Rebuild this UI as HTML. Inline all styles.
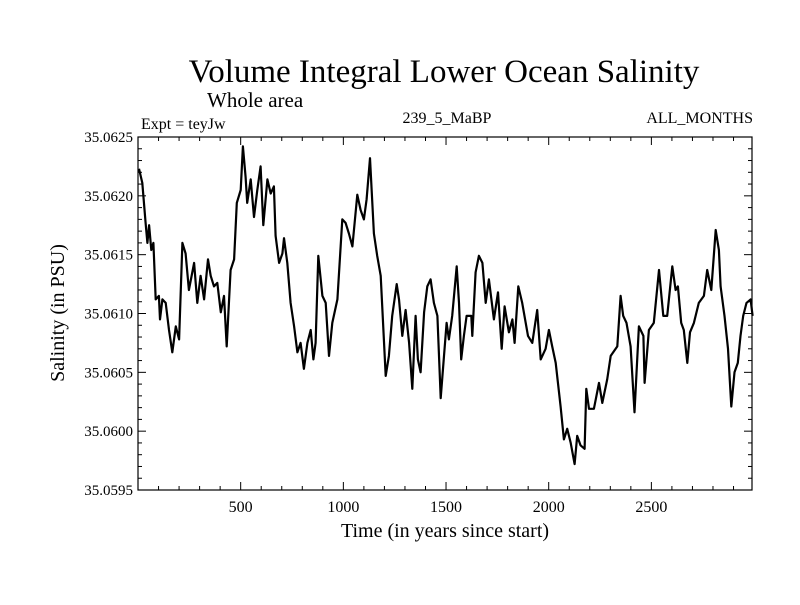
<!DOCTYPE html>
<html><head><meta charset="utf-8"><style>
body{margin:0;background:#fff}
svg text{font-family:"Liberation Serif",serif;fill:#000}
</style></head><body>
<svg id="chart" width="800" height="600" viewBox="0 0 800 600">
<rect width="800" height="600" fill="#fff"/>
<text x="444" y="82" font-size="33" text-anchor="middle">Volume Integral Lower Ocean Salinity</text>
<text x="207" y="107" font-size="21">Whole area</text>
<text x="141" y="129" font-size="16">Expt = teyJw</text>
<text x="447" y="123" font-size="16" text-anchor="middle">239_5_MaBP</text>
<text x="753" y="123" font-size="16" text-anchor="end">ALL_MONTHS</text>
<text x="445" y="537" font-size="20" text-anchor="middle">Time (in years since start)</text>
<text transform="translate(64,313) rotate(-90)" font-size="20" text-anchor="middle">Salinity (in PSU)</text>
<g id="axes"></g>
<path id="line" fill="none" stroke="#000" stroke-width="2.2" stroke-linejoin="round"/>
<rect x="138" y="137" width="614" height="353" fill="none" stroke="#000" stroke-width="1.2"/>
</svg>
<script>
const years=[5,21,37,46,54,65,75,86,102,107,119,135,151,167,184,200,216,232,248,273,289,305,322,341,354,370,386,403,419,432,451,468,481,500,511,524,532,549,565,581,597,610,630,646,662,670,687,703,711,727,743,760,776,792,808,825,841,854,865,878,898,914,930,946,971,995,1011,1027,1044,1068,1084,1100,1113,1130,1149,1165,1182,1206,1222,1238,1260,1271,1287,1303,1320,1336,1352,1363,1376,1393,1409,1425,1441,1458,1474,1490,1503,1514,1530,1552,1563,1574,1587,1600,1623,1628,1644,1660,1677,1693,1709,1733,1753,1771,1785,1806,1823,1834,1852,1871,1899,1920,1944,1961,1985,2001,2017,2034,2050,2058,2074,2090,2107,2126,2139,2155,2175,2183,2196,2220,2245,2261,2285,2302,2334,2350,2363,2379,2399,2418,2439,2461,2467,2488,2512,2537,2558,2577,2602,2618,2629,2645,2658,2675,2688,2707,2731,2756,2772,2792,2813,2829,2837,2856,2873,2889,2905,2921,2934,2947,2963,2983,2993];
const salinity=[35.06223,35.06211,35.06177,35.06160,35.06175,35.06154,35.06160,35.06112,35.06115,35.06095,35.06112,35.06109,35.06086,35.06067,35.06089,35.06078,35.06160,35.06151,35.06120,35.06143,35.06109,35.06132,35.06112,35.06146,35.06132,35.06123,35.06126,35.06101,35.06115,35.06072,35.06137,35.06146,35.06194,35.06205,35.06242,35.06216,35.06194,35.06214,35.06182,35.06205,35.06225,35.06175,35.06214,35.06202,35.06208,35.06166,35.06143,35.06151,35.06164,35.06143,35.06109,35.06089,35.06067,35.06075,35.06053,35.06075,35.06086,35.06061,35.06075,35.06149,35.06115,35.06109,35.06064,35.06092,35.06112,35.06180,35.06177,35.06168,35.06157,35.06201,35.06188,35.06180,35.06197,35.06232,35.06168,35.06149,35.06132,35.06047,35.06064,35.06098,35.06125,35.06112,35.06081,35.06103,35.06075,35.06036,35.06098,35.06061,35.06050,35.06101,35.06123,35.06129,35.06109,35.06098,35.06028,35.06064,35.06092,35.06078,35.06098,35.06140,35.06109,35.06061,35.06081,35.06098,35.06098,35.06081,35.06135,35.06149,35.06143,35.06109,35.06129,35.06095,35.06118,35.06070,35.06106,35.06084,35.06095,35.06075,35.06123,35.06109,35.06081,35.06075,35.06103,35.06061,35.06070,35.06086,35.06072,35.06058,35.06033,35.06021,35.05993,35.06002,35.05990,35.05972,35.05996,35.05988,35.05985,35.06036,35.06019,35.06019,35.06041,35.06024,35.06044,35.06064,35.06072,35.06115,35.06098,35.06092,35.06072,35.06016,35.06089,35.06081,35.06041,35.06086,35.06092,35.06137,35.06098,35.06098,35.06140,35.06120,35.06123,35.06092,35.06086,35.06058,35.06084,35.06092,35.06109,35.06115,35.06137,35.06120,35.06171,35.06154,35.06123,35.06098,35.06070,35.06021,35.06050,35.06058,35.06081,35.06098,35.06109,35.06112,35.06098];
const xTickLabels=[500,1000,1500,2000,2500];
const yTickLabels=["35.0595","35.0600","35.0605","35.0610","35.0615","35.0620","35.0625"];
const X0=138,X1=752,Y0=490,Y1=137,XMIN=0,XMAX=2990,YMIN=35.0595,YMAX=35.0625;
const sx=v=>X0+(v-XMIN)/(XMAX-XMIN)*(X1-X0);
const sy=v=>Y0-(v-YMIN)/(YMAX-YMIN)*(Y0-Y1);
const NS="http://www.w3.org/2000/svg";
const ax=document.getElementById('axes');
function ln(x1,y1,x2,y2){const l=document.createElementNS(NS,'line');l.setAttribute('x1',x1);l.setAttribute('y1',y1);l.setAttribute('x2',x2);l.setAttribute('y2',y2);l.setAttribute('stroke','#000');l.setAttribute('stroke-width','1');


ax.appendChild(l);}
for(let t=100;t<XMAX;t+=100){const x=sx(t);const L=(t%500===0)?8:4;ln(x,Y0,x,Y0-L);ln(x,Y1,x,Y1+L);}
for(let i=1;i<30;i++){const v=YMIN+i*0.0001;const y=sy(v);const L=(i%5===0)?8:4;ln(X0,y,X0+L,y);ln(X1,y,X1-L,y);}
xTickLabels.forEach(t=>{const e=document.createElementNS(NS,'text');e.setAttribute('x',sx(t));e.setAttribute('y',512);e.setAttribute('font-size','16');e.setAttribute('text-anchor','middle');e.textContent=t;


ax.appendChild(e);});
yTickLabels.forEach(t=>{const e=document.createElementNS(NS,'text');e.setAttribute('x',133);e.setAttribute('y',sy(parseFloat(t))+5);e.setAttribute('font-size','15');e.setAttribute('text-anchor','end');e.textContent=t;


ax.appendChild(e);});
document.getElementById('line').setAttribute('d',years.map((y,i)=>(i?'L':'M')+sx(y).toFixed(1)+','+sy(salinity[i]).toFixed(1)).join(''));
</script>
</body></html>
